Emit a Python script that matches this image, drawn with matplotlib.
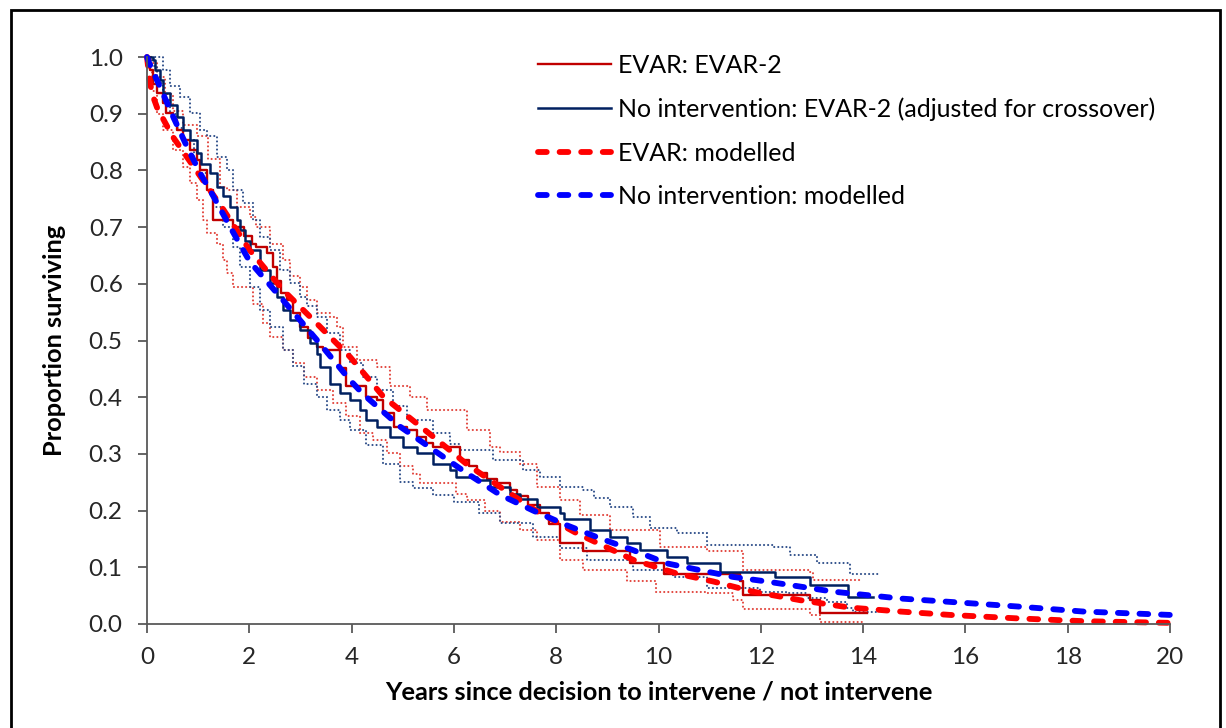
import matplotlib.pyplot as plt
from matplotlib.patches import Rectangle

plt.rcParams['font.family'] = ['Lato', 'DejaVu Sans']

# Kaplan-Meier (EVAR-2 trial) as (years, proportion surviving)
evar_km = [(0, 1.0), (0.06, 0.977), (0.12, 0.953), (0.19, 0.936), (0.32, 0.918), (0.38, 0.901),
           (0.51, 0.889), (0.58, 0.871), (0.71, 0.854), (0.84, 0.836), (0.97, 0.818), (1.04, 0.800),
           (1.17, 0.765), (1.30, 0.713), (1.69, 0.701), (1.90, 0.685), (2.05, 0.671), (2.14, 0.665),
           (2.34, 0.654), (2.47, 0.630), (2.55, 0.605), (2.62, 0.583), (2.73, 0.571), (2.86, 0.548),
           (2.99, 0.524), (3.15, 0.505), (3.32, 0.489), (3.45, 0.483), (3.77, 0.451), (3.90, 0.419),
           (4.29, 0.401), (4.49, 0.395), (4.62, 0.372), (4.82, 0.348), (5.08, 0.342), (5.27, 0.330),
           (5.45, 0.320), (5.60, 0.313), (6.12, 0.289), (6.30, 0.278), (6.45, 0.266), (6.65, 0.255),
           (6.84, 0.248), (7.10, 0.236), (7.23, 0.225), (7.45, 0.210), (7.68, 0.195), (7.85, 0.177),
           (8.07, 0.142), (8.53, 0.128), (9.44, 0.107), (10.10, 0.089), (11.59, 0.075), (11.66, 0.051),
           (12.96, 0.042), (13.16, 0.019), (14.07, 0.019)]

nointv_km = [(0, 1.0), (0.12, 0.995), (0.15, 0.977), (0.25, 0.959), (0.32, 0.936), (0.45, 0.915),
             (0.58, 0.895), (0.71, 0.871), (0.84, 0.854), (0.97, 0.830), (1.05, 0.812), (1.23, 0.795),
             (1.36, 0.771), (1.49, 0.754), (1.62, 0.736), (1.75, 0.713), (1.82, 0.695), (1.92, 0.675),
             (2.01, 0.660), (2.21, 0.624), (2.40, 0.601), (2.54, 0.577), (2.66, 0.554), (2.80, 0.536),
             (2.99, 0.519), (3.19, 0.495), (3.32, 0.477), (3.38, 0.454), (3.58, 0.424), (3.77, 0.407),
             (3.97, 0.395), (4.16, 0.377), (4.29, 0.360), (4.49, 0.348), (4.75, 0.330), (5.01, 0.313),
             (5.27, 0.301), (5.60, 0.283), (5.92, 0.272), (6.05, 0.260), (6.45, 0.254), (6.71, 0.242),
             (7.10, 0.230), (7.29, 0.221), (7.62, 0.207), (8.07, 0.195), (8.15, 0.186), (8.66, 0.166),
             (9.05, 0.154), (9.38, 0.142), (9.64, 0.130), (10.16, 0.119), (10.55, 0.107), (11.20, 0.092),
             (12.27, 0.083), (12.97, 0.068), (13.70, 0.048), (14.20, 0.048)]

# 95% confidence limits (dotted)
evar_hi = [(0, 1.0), (0.10, 0.990), (0.20, 0.965), (0.35, 0.935), (0.50, 0.905), (0.71, 0.880),
           (0.97, 0.860), (1.20, 0.820), (1.43, 0.771), (1.56, 0.765), (1.75, 0.736), (2.01, 0.718),
           (2.14, 0.701), (2.40, 0.671), (2.66, 0.642), (2.80, 0.613), (2.99, 0.595), (3.12, 0.571),
           (3.32, 0.548), (3.58, 0.542), (3.71, 0.524), (3.84, 0.489), (4.10, 0.466), (4.49, 0.454),
           (4.75, 0.419), (5.14, 0.401), (5.47, 0.377), (5.99, 0.377), (6.25, 0.342), (6.71, 0.313),
           (6.90, 0.304), (7.29, 0.283), (7.62, 0.242), (8.07, 0.219), (8.47, 0.192), (9.05, 0.166),
           (10.03, 0.136), (10.94, 0.128), (11.66, 0.095), (12.96, 0.092), (13.03, 0.077), (14.00, 0.077)]

evar_lo = [(0, 1.0), (0.03, 0.977), (0.10, 0.940), (0.19, 0.900), (0.32, 0.871), (0.51, 0.836),
           (0.71, 0.806), (0.84, 0.777), (0.97, 0.748), (1.10, 0.713), (1.17, 0.689), (1.36, 0.671),
           (1.49, 0.642), (1.56, 0.619), (1.69, 0.595), (2.08, 0.565), (2.27, 0.530), (2.40, 0.507),
           (2.66, 0.483), (2.86, 0.460), (3.06, 0.436), (3.32, 0.413), (3.64, 0.389), (3.90, 0.366),
           (4.16, 0.336), (4.42, 0.325), (4.69, 0.301), (4.95, 0.278), (5.21, 0.265), (5.34, 0.248),
           (6.05, 0.230), (6.25, 0.219), (6.60, 0.200), (6.90, 0.180), (7.29, 0.166), (7.62, 0.148),
           (8.07, 0.113), (8.53, 0.095), (9.38, 0.075), (9.96, 0.057), (10.94, 0.054), (11.46, 0.042),
           (11.66, 0.027), (12.96, 0.016), (13.16, 0.004), (14.00, 0.004)]

nointv_hi = [(0, 1.0), (0.12, 1.0), (0.32, 0.977), (0.45, 0.948), (0.65, 0.930), (0.84, 0.901),
             (1.04, 0.871), (1.17, 0.860), (1.36, 0.824), (1.56, 0.801), (1.69, 0.765), (1.88, 0.742),
             (2.08, 0.713), (2.21, 0.683), (2.40, 0.660), (2.60, 0.624), (2.80, 0.601), (2.99, 0.577),
             (3.12, 0.560), (3.32, 0.542), (3.51, 0.513), (3.77, 0.483), (3.97, 0.460), (4.23, 0.436),
             (4.49, 0.413), (4.80, 0.385), (5.08, 0.360), (5.60, 0.336), (5.92, 0.318), (6.12, 0.307),
             (6.77, 0.289), (7.36, 0.272), (7.68, 0.260), (8.07, 0.242), (8.53, 0.236), (8.73, 0.222),
             (9.05, 0.207), (9.51, 0.189), (9.83, 0.169), (10.36, 0.160), (10.94, 0.139), (12.24, 0.136),
             (12.57, 0.122), (13.09, 0.107), (13.74, 0.089), (14.33, 0.089)]

nointv_lo = [(0, 1.0), (0.10, 0.985), (0.20, 0.955), (0.32, 0.925), (0.45, 0.900), (0.58, 0.875),
             (0.71, 0.854), (0.91, 0.818), (1.04, 0.795), (1.17, 0.765), (1.30, 0.736), (1.49, 0.701),
             (1.69, 0.665), (1.82, 0.630), (2.01, 0.595), (2.21, 0.554), (2.40, 0.524), (2.66, 0.483),
             (2.86, 0.455), (3.06, 0.424), (3.32, 0.401), (3.51, 0.377), (3.77, 0.360), (3.97, 0.342),
             (4.29, 0.315), (4.62, 0.282), (4.95, 0.250), (5.21, 0.240), (5.60, 0.228), (6.00, 0.215),
             (6.50, 0.195), (6.90, 0.178), (7.55, 0.154), (8.07, 0.134), (8.60, 0.113), (9.51, 0.095),
             (10.29, 0.083), (10.94, 0.063), (11.98, 0.056), (12.50, 0.054), (12.90, 0.045), (13.29, 0.039),
             (13.68, 0.028), (13.81, 0.022), (14.26, 0.022)]

# modelled survival curves
evar_mod = [(0, 1.0), (0.05, 0.960), (0.10, 0.935), (0.20, 0.910), (0.50, 0.860), (1.00, 0.795),
            (1.50, 0.730), (2.00, 0.660), (2.66, 0.589), (3.32, 0.530), (3.97, 0.471), (4.62, 0.401),
            (4.95, 0.377), (5.60, 0.330), (6.25, 0.282), (6.90, 0.242), (7.60, 0.200), (8.40, 0.160),
            (9.51, 0.113), (10.36, 0.089), (11.07, 0.075), (11.85, 0.057), (12.77, 0.042), (13.74, 0.029),
            (14.72, 0.022), (15.70, 0.016), (17.00, 0.010), (18.30, 0.005), (20.00, 0.002)]

nointv_mod = [(0, 1.0), (0.03, 0.992), (0.25, 0.948), (0.51, 0.895), (0.78, 0.842), (1.04, 0.795),
              (1.30, 0.754), (1.62, 0.701), (2.01, 0.639), (2.66, 0.571), (3.32, 0.501), (3.97, 0.430),
              (4.23, 0.405), (4.95, 0.348), (5.60, 0.307), (6.25, 0.266), (6.90, 0.228), (7.55, 0.200),
              (8.21, 0.174), (8.86, 0.151), (9.51, 0.130), (10.16, 0.107), (10.81, 0.095), (11.46, 0.083),
              (12.11, 0.075), (12.77, 0.066), (13.42, 0.057), (14.07, 0.051), (14.72, 0.045), (15.70, 0.039),
              (17.00, 0.031), (18.30, 0.022), (20.00, 0.016)]

labels = ['EVAR: EVAR-2', 'No intervention: EVAR-2 (adjusted for crossover)',
          'EVAR: modelled', 'No intervention: modelled']
x_ticks = list(range(0, 21, 2))
y_ticks = [i / 10 for i in range(11)]


def split(pairs):
    t, s = zip(*pairs)
    return list(t), list(s)


fig = plt.figure(figsize=(12.26, 7.28), dpi=100)
W, H = 1226, 728
ax = fig.add_axes([147 / W, 1 - 624 / H, (1170 - 147) / W, (624 - 57) / H])

# outer frame
fig.add_artist(Rectangle((11 / W, -0.05), (1220 - 11) / W, 1 - 10 / H + 0.05,
                         transform=fig.transFigure, fill=False, edgecolor='black', lw=2.0))

dot = dict(lw=1.5, linestyle=(0, (0.05, 1.9)), dash_capstyle='round', drawstyle='steps-post')
for ci in (evar_hi, evar_lo):
    t, s = split(ci)
    ax.plot(t, s, color='#E2443C', **dot)
for ci in (nointv_hi, nointv_lo):
    t, s = split(ci)
    ax.plot(t, s, color='#2F4F8A', **dot)

t, s = split(evar_km)
l1, = ax.plot(t, s, color='#C00000', lw=1.7, drawstyle='steps-post')
t, s = split(nointv_km)
l2, = ax.plot(t, s, color='#002060', lw=1.8, drawstyle='steps-post')

dash = dict(lw=4.2, linestyle=(0, (1.5, 2.2)), dash_capstyle='round', solid_capstyle='round')
t, s = split(evar_mod)
l3, = ax.plot(t, s, color='#FF0000', **dash)
t, s = split(nointv_mod)
l4, = ax.plot(t, s, color='#0000FF', **dash)

for ln in ax.lines:
    ln.set_clip_on(False)

ax.set_xlim(0, 20)
ax.set_ylim(0, 1)
ax.set_xticks(x_ticks)
ax.set_yticks(y_ticks)
ax.set_yticklabels([f'{v:.1f}' for v in y_ticks])
for side in ('top', 'right'):
    ax.spines[side].set_visible(False)
for side in ('left', 'bottom'):
    ax.spines[side].set_color('#595959')
    ax.spines[side].set_linewidth(1.3)
ax.tick_params(direction='out', length=6.5, width=1.3, color='#595959',
               labelsize=17.5, labelcolor='#262626')
ax.tick_params(axis='x', pad=10)
ax.tick_params(axis='y', pad=11)

ax.set_xlabel('Years since decision to intervene / not intervene', fontsize=18.3,
              fontweight='bold', color='black', labelpad=9)
ax.set_ylabel('Proportion surviving', fontsize=18.3, fontweight='bold', color='black', labelpad=16)

ax.legend([l1, l2, l3, l4], labels, loc='upper left', bbox_to_anchor=(538 / W, 1 - 54 / H),
          bbox_transform=fig.transFigure, frameon=False, fontsize=18, handlelength=2.9,
          handletextpad=0.32, labelspacing=0.82, borderpad=0, borderaxespad=0)

fig.savefig('out.png', dpi=100)
